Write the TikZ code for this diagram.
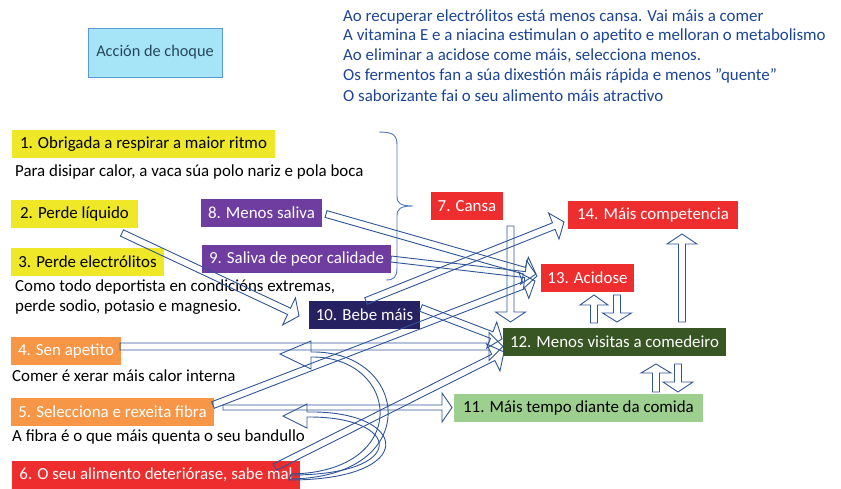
\documentclass[tikz,border=0pt]{standalone}
\usepackage{fontspec}
\setmainfont{Carlito}
\usetikzlibrary{calc}
\definecolor{ylw}{RGB}{238,232,40}
\definecolor{org}{RGB}{247,150,70}
\definecolor{rd}{RGB}{238,46,46}
\definecolor{prp}{RGB}{111,60,160}
\definecolor{nvy}{RGB}{38,34,98}
\definecolor{dgr}{RGB}{55,86,35}
\definecolor{lgr}{RGB}{157,208,142}
\definecolor{lbl}{RGB}{166,228,248}
\definecolor{lblb}{RGB}{91,155,213}
\definecolor{acc}{RGB}{40,70,90}
\definecolor{arrblue}{RGB}{47,85,151}
\definecolor{brc}{RGB}{80,120,190}
\definecolor{topblue}{RGB}{28,68,150}
\tikzset{
  box/.style={inner sep=0pt, font=\fontsize{16.9}{19}\selectfont},
  wbox/.style={box, text=white},
  note/.style={anchor=west, inner sep=0pt, font=\fontsize{16.9}{19}\selectfont},
  topnote/.style={anchor=west, inner sep=0pt, text=topblue, font=\fontsize{16.9}{19}\selectfont},
  barrow/.style={draw=arrblue, line width=0.9pt, line join=miter},
}
\newcommand\barr[5]{%
  \coordinate (bn) at ($(#2)!#3pt!(#1)$);
  \draw[barrow] ($(#1)!#5pt!90:(#2)$) -- ($(bn)!#5pt!-90:(#1)$) -- ($(bn)!#4pt!-90:(#1)$) -- (#2) -- ($(bn)!#4pt!90:(#1)$) -- ($(bn)!#5pt!90:(#1)$) -- ($(#1)!#5pt!-90:(#2)$) -- cycle;
}
\begin{document}
\begin{tikzpicture}[x=1pt,y=-1pt]
\useasboundingbox (0,0) rectangle (841,488);
% top notes
\node[topnote] (l1) at (343,17) {Ao recuperar electrólitos está menos cansa. Vai máis a comer};
\node[topnote] (l2) at (343,36) {A vitamina E e a niacina estimulan o apetito e melloran o metabolismo};
\node[topnote] (l3) at (343,56) {Ao eliminar a acidose come máis, selecciona menos.};
\node[topnote] (l4) at (343,76) {Os fermentos fan a súa dixestión máis rápida e menos ”quente”};
\node[topnote] (l5) at (343,96) {O saborizante fai o seu alimento máis atractivo};
% accion
\node[box, fill=lbl, draw=lblb, line width=0.8pt, text=acc, minimum width=134pt, minimum height=49pt, font=\fontsize{16.3}{19}\selectfont] (acc) at (155,52.5) {Acción de choque};
% boxes
\node[box, fill=ylw, minimum width=263pt, minimum height=28pt] (n1) at (143.5,144) {1. Obrigada a respirar a maior ritmo};
\node[box, fill=ylw, minimum width=127pt, minimum height=28pt] (n2) at (74.5,214) {2. Perde líquido};
\node[box, fill=ylw, minimum width=153pt, minimum height=28pt] (n3) at (87.5,262) {3. Perde electrólitos};
\node[wbox, fill=org, minimum width=110pt, minimum height=28pt] (n4) at (66,351) {4. Sen apetito};
\node[wbox, fill=org, minimum width=203pt, minimum height=28pt] (n5) at (112.5,412) {5. Selecciona e rexeita fibra};
\node[wbox, fill=rd, minimum width=288pt, minimum height=28pt] (n6) at (156,475) {6. O seu alimento deteriórase, sabe mal};
\node[wbox, fill=rd, minimum width=72pt, minimum height=28pt] (n7) at (467,206) {7. Cansa};
\node[wbox, fill=prp, minimum width=121pt, minimum height=28pt] (n8) at (261.5,213) {8. Menos saliva};
\node[wbox, fill=prp, minimum width=189pt, minimum height=28pt] (n9) at (296.5,259) {9. Saliva de peor calidade};
\node[wbox, fill=nvy, minimum width=111pt, minimum height=28pt] (n10) at (364.5,315) {10. Bebe máis};
\node[box, fill=lgr, minimum width=249pt, minimum height=28pt] (n11) at (578.5,408) {11. Máis tempo diante da comida};
\node[wbox, fill=dgr, minimum width=223pt, minimum height=28pt] (n12) at (614.5,342) {12. Menos visitas a comedeiro};
\node[wbox, fill=rd, minimum width=93pt, minimum height=28pt] (n13) at (587.5,278) {13. Acidose};
\node[wbox, fill=rd, minimum width=170pt, minimum height=28pt] (n14) at (653,215) {14. Máis competencia};
% notes
\node[note] (t1) at (15,172) {Para disipar calor, a vaca súa polo nariz e pola boca};
\node[note] (t3a) at (15,287) {Como todo deportista en condicións extremas,};
\node[note] (t3b) at (15,307) {perde sodio, potasio e magnesio.};
\node[note] (t4) at (12,376) {Comer é xerar máis calor interna};
\node[note] (t5) at (12,437) {A fibra é o que máis quenta o seu bandullo};
% brace
\draw[brc, line width=0.9pt] (379,132) .. controls (393,132) and (397,135) .. (397,145) -- (397,196) .. controls (397,203) and (400,206) .. (413,206) .. controls (400,206) and (397,209) .. (397,216) -- (397,268) .. controls (397,277) and (394,280) .. (386,280);
% arrow coordinates
\coordinate (a2t) at (122,233);   \coordinate (a2h) at (299,316);
\coordinate (a8t) at (326,214);   \coordinate (a8h) at (536,274);
\coordinate (a9t) at (391,259);   \coordinate (a9h) at (537,276);
\coordinate (a10t) at (366,301);  \coordinate (a10h) at (564,222);
\coordinate (b10t) at (421,308);  \coordinate (b10h) at (502,339);
\coordinate (a4t) at (120,346.5); \coordinate (a4h) at (503,346.5);
\coordinate (a5t) at (223,407.5); \coordinate (a5h) at (452,407.5);
\coordinate (b5t) at (213,405);   \coordinate (b5h) at (535,281);
\coordinate (a6t) at (275,467);   \coordinate (a6h) at (504,352);
\coordinate (a7t) at (510.5,226); \coordinate (a7h) at (510.5,322);
\coordinate (a12t) at (594,323);  \coordinate (a12h) at (594,295);
\coordinate (a13t) at (617,295);  \coordinate (a13h) at (617,322);
\coordinate (a11t) at (656,392);  \coordinate (a11h) at (656,364);
\coordinate (b12t) at (678,364);  \coordinate (b12h) at (678,392);
\coordinate (c12t) at (682,322);  \coordinate (c12h) at (682,234);
% straight block arrows
\barr{a2t}{a2h}{11}{15}{3.5}
\barr{a8t}{a8h}{12}{14}{3.5}
\barr{a9t}{a9h}{12}{14}{3}
\barr{a10t}{a10h}{11}{14}{3.5}
\barr{b10t}{b10h}{11}{14}{3.5}
\barr{a4t}{a4h}{14}{14}{3.5}
\barr{a5t}{a5h}{10}{14.5}{2.5}
\barr{b5t}{b5h}{12}{14}{3.5}
\barr{a6t}{a6h}{12}{15}{3.5}
\barr{a7t}{a7h}{10}{15}{3.5}
\barr{a12t}{a12h}{10}{14}{3.5}
\barr{a13t}{a13h}{9}{14.5}{3.5}
\barr{a11t}{a11h}{9}{15}{3.5}
\barr{b12t}{b12h}{10}{15}{3.5}
\barr{c12t}{c12h}{10}{15}{3.5}
% curved block arrows (6 -> 4, 6 -> 5)
\draw[barrow] (289,479) .. controls (425,478) and (410,350) .. (311,352) -- (311,341) -- (280,354) -- (311,369) -- (311,357) .. controls (400,356) and (413,472) .. (291,474) -- cycle;
\draw[barrow] (289,480) .. controls (420,480) and (410,410) .. (307,412) -- (307,404) -- (283,416) -- (307,428) -- (307,417) .. controls (402,416) and (410,475) .. (291,475) -- cycle;
\end{tikzpicture}
\end{document}
